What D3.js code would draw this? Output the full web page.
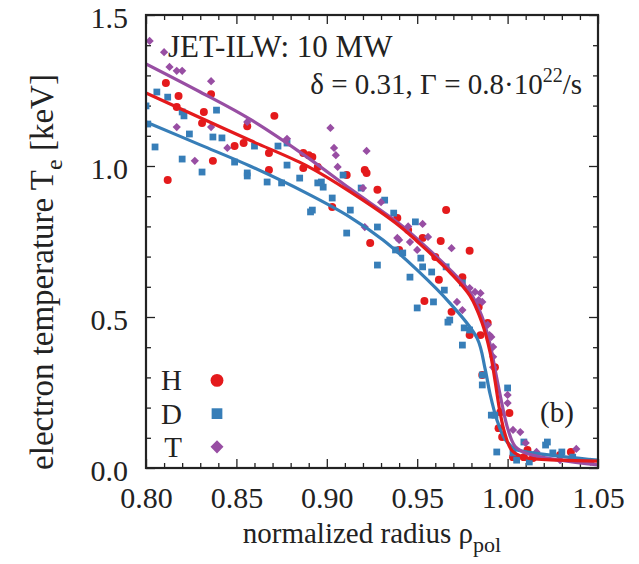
<!DOCTYPE html>
<html>
<head>
<meta charset="utf-8">
<title>JET-ILW Te profile</title>
<script src="https://d3js.org/d3.v7.min.js"></script>
<style>
  body { margin: 0; background: #fff; }
</style>
</head>
<body>
<div id="chart"></div>
<script>
var H_points = [
  [0.811,1.275],[0.818,1.232],[0.836,1.238],[0.817,1.195],[0.832,1.179],[0.831,1.142],
  [0.856,1.132],[0.871,1.166],[0.849,1.066],[0.854,1.076],[0.837,1.017],[0.812,0.954],
  [0.868,1.043],[0.868,0.987],[0.887,1.043],[0.890,1.036],[0.892,1.030],[0.895,0.997],
  [0.887,0.993],[0.911,0.970],[0.921,0.987],[0.922,0.977],[0.928,0.921],[0.903,0.864],
  [0.939,0.828],[0.945,0.788],[0.924,0.745],[0.953,0.762],[0.963,0.752],[0.966,0.854],
  [0.979,0.719],[0.975,0.632],[0.960,0.699],[0.940,0.722],[0.954,0.553],[0.962,0.623],
  [0.969,0.517],[0.984,0.533],[0.989,0.480],[0.985,0.440],[0.979,0.440],[0.993,0.334],
  [0.986,0.308],[0.996,0.185],[1.001,0.182],[0.995,0.132],[0.997,0.103],[1.003,0.036],
  [1.009,0.036],[1.014,0.033],[1.011,0.060],[1.035,0.053],[1.029,0.043],[1.005,0.033]
];
var D_points = [
  [0.800,1.199],[0.801,1.139],[0.806,1.245],[0.812,1.228],[0.820,1.179],[0.821,1.166],
  [0.839,1.185],[0.824,1.106],[0.805,1.063],[0.820,1.023],[0.831,0.980],[0.837,1.096],
  [0.842,1.093],[0.849,1.013],[0.856,0.977],[0.856,0.967],[0.860,1.066],[0.867,0.947],
  [0.873,1.066],[0.878,1.076],[0.878,1.003],[0.875,0.944],[0.885,0.960],[0.892,0.854],
  [0.891,0.848],[0.895,0.944],[0.897,0.947],[0.898,0.930],[0.903,0.894],[0.909,0.970],
  [0.919,0.927],[0.913,0.854],[0.932,0.887],[0.911,0.778],[0.928,0.672],[0.937,0.844],
  [0.928,0.798],[0.949,0.815],[0.938,0.722],[0.942,0.712],[0.952,0.695],[0.966,0.666],
  [0.958,0.649],[0.946,0.632],[0.953,0.666],[0.975,0.613],[0.959,0.550],[0.965,0.589],
  [0.968,0.490],[0.976,0.464],[0.979,0.457],[0.975,0.407],[0.986,0.308],[0.950,0.530],
  [0.967,0.483],[0.986,0.275],[1.000,0.265],[0.991,0.175],[0.993,0.175],[0.994,0.053],
  [1.003,0.050],[1.021,0.076],[1.025,0.050],[1.036,0.036],[1.005,0.026],[1.009,0.086],
  [1.022,0.086],[1.030,0.053],[1.012,0.020]
];
var T_points = [
  [0.802,1.414],[0.810,1.377],[0.813,1.328],[0.817,1.315],[0.820,1.315],[0.836,1.281],
  [0.817,1.129],[0.836,1.129],[0.845,1.060],[0.827,1.017],[0.856,1.146],[0.878,1.090],
  [0.902,1.126],[0.904,1.060],[0.905,1.036],[0.906,0.997],[0.922,1.050],[0.920,0.927],
  [0.930,0.880],[0.921,0.798],[0.939,0.762],[0.940,0.755],[0.946,0.748],[0.945,0.800],
  [0.953,0.808],[0.956,0.765],[0.950,0.722],[0.969,0.728],[0.979,0.596],[0.982,0.583],
  [0.984,0.556],[0.972,0.550],[0.975,0.523],[0.985,0.579],[0.986,0.550],[0.989,0.474],
  [0.990,0.440],[0.991,0.434],[0.992,0.401],[0.992,0.368],[0.992,0.334],[1.000,0.242],
  [1.000,0.215],[1.003,0.126],[1.007,0.119],[1.010,0.083],[1.016,0.053],[1.038,0.063],
  [1.029,0.026],[1.046,0.020]
];

// fitted profiles
var H_fit = [[0.800,1.242],[0.830,1.160],[0.8575,1.085],[0.8885,1.002],[0.9128,0.915],
  [0.9405,0.800],[0.9515,0.742],[0.9681,0.648],[0.9792,0.570],[0.9858,0.482],[0.9903,0.384],
  [0.993,0.291],[0.9958,0.185],[0.9986,0.112],[1.0024,0.058],[1.0096,0.035],[1.029,0.026],[1.05,0.023]];
var D_fit = [[0.800,1.146],[0.830,1.070],[0.8575,1.000],[0.8885,0.911],[0.9128,0.831],
  [0.9311,0.755],[0.9499,0.656],[0.9681,0.546],[0.9831,0.430],[0.9875,0.330],[0.9903,0.245],
  [0.9941,0.159],[0.9986,0.095],[1.0041,0.063],[1.0141,0.050],[1.0329,0.036],[1.05,0.026]];
var T_fit = [[0.800,1.338],[0.830,1.245],[0.8575,1.155],[0.8885,1.032],[0.9128,0.925],
  [0.9405,0.807],[0.9515,0.750],[0.9681,0.657],[0.9792,0.582],[0.9858,0.502],[0.9903,0.410],
  [0.9936,0.310],[0.9969,0.212],[1.0002,0.128],[1.0041,0.072],[1.0107,0.048],[1.029,0.026],[1.05,0.010]];

var xMajor = [0.80, 0.85, 0.90, 0.95, 1.00, 1.05];
var yMajor = [0.0, 0.5, 1.0, 1.5];
var legendNames = ["H", "D", "T"];

var colH = "#e41a1c", colD = "#377eb8", colT = "#984ea3";
var FONT = "Liberation Serif";
var INK = "#222";

var W = 639, Hh = 564;
var margin = {left: 146, top: 15, right: 41, bottom: 96};
var pw = W - margin.left - margin.right, ph = Hh - margin.top - margin.bottom;

var svg = d3.select("#chart").append("svg").attr("width", W).attr("height", Hh);
var g = svg.append("g").attr("transform", "translate(" + margin.left + "," + margin.top + ")");

var x = d3.scaleLinear().domain([0.80, 1.05]).range([0, pw]);
var y = d3.scaleLinear().domain([0, 1.5]).range([ph, 0]);

var xMinor = d3.range(80, 106).filter(function(d){ return d % 5 !== 0; }).map(function(d){ return d/100; });
var yMinor = d3.range(0, 16).filter(function(d){ return d % 5 !== 0; }).map(function(d){ return d/10; });

svg.append("clipPath").attr("id", "clip").append("rect").attr("width", pw).attr("height", ph);

// ticks (inward, mirrored)
function tickAxis(axis, tf) {
  var a = g.append("g").attr("transform", tf).call(axis);
  a.select(".domain").remove();
  a.selectAll("line").attr("stroke", INK).attr("stroke-width", 1.3);
  a.selectAll("text").attr("font-family", FONT).attr("font-size", 30).attr("fill", INK);
  return a;
}
tickAxis(d3.axisBottom(x).tickValues(xMajor).tickSize(-9).tickPadding(19).tickFormat(d3.format(".2f")), "translate(0," + ph + ")");
tickAxis(d3.axisBottom(x).tickValues(xMinor).tickSize(-5).tickFormat(""), "translate(0," + ph + ")");
tickAxis(d3.axisTop(x).tickValues(xMajor).tickSize(-9).tickFormat(""), "translate(0,0)");
tickAxis(d3.axisTop(x).tickValues(xMinor).tickSize(-5).tickFormat(""), "translate(0,0)");
var yAx = tickAxis(d3.axisLeft(y).tickValues(yMajor).tickSize(-9).tickPadding(18).tickFormat(d3.format(".1f")), "translate(0,0)");
yAx.selectAll("text").attr("dy", "0.4em");
tickAxis(d3.axisLeft(y).tickValues(yMinor).tickSize(-5).tickFormat(""), "translate(0,0)");
tickAxis(d3.axisRight(y).tickValues(yMajor).tickSize(-9).tickFormat(""), "translate(" + pw + ",0)");
tickAxis(d3.axisRight(y).tickValues(yMinor).tickSize(-5).tickFormat(""), "translate(" + pw + ",0)");

// data
var plot = g.append("g").attr("clip-path", "url(#clip)");

function drawPoints(data, shape, size, color, rot) {
  plot.append("g").selectAll("path").data(data).enter().append("path")
    .attr("d", d3.symbol().type(shape).size(size))
    .attr("transform", function(d){ return "translate(" + x(d[0]) + "," + y(d[1]) + ")" + (rot ? " rotate(45)" : ""); })
    .attr("fill", color);
}
drawPoints(H_points, d3.symbolCircle, 50, colH);
drawPoints(D_points, d3.symbolSquare, 46, colD);
drawPoints(T_points, d3.symbolSquare, 34, colT, true);

var line = d3.line().x(function(d){ return x(d[0]); }).y(function(d){ return y(d[1]); })
  .curve(d3.curveCatmullRom.alpha(0.5));
[[D_fit, colD], [T_fit, colT], [H_fit, colH]].forEach(function(s) {
  plot.append("path").datum(s[0]).attr("d", line)
    .attr("fill", "none").attr("stroke", s[1]).attr("stroke-width", 3.2);
});

// frame
g.append("rect").attr("width", pw).attr("height", ph)
  .attr("fill", "none").attr("stroke", INK).attr("stroke-width", 2.2);

// labels
function txt(xp, yp, size, anchor) {
  return svg.append("text").attr("x", xp).attr("y", yp).attr("font-size", size)
    .attr("font-family", FONT).attr("fill", INK).attr("text-anchor", anchor || "start");
}
var xl = txt(margin.left + pw/2, 543, 29, "middle");
xl.append("tspan").text("normalized radius \u03c1");
xl.append("tspan").attr("font-size", 22).attr("dy", 9).text("pol");

var yl = svg.append("text").attr("transform", "translate(53,272) rotate(-90)")
  .attr("text-anchor", "middle").attr("font-size", 33).attr("font-family", FONT).attr("fill", INK);
yl.append("tspan").text("electron temperature T");
yl.append("tspan").attr("font-size", 24).attr("dy", 9).text("e");
yl.append("tspan").attr("dy", -9).text(" [keV]");

txt(168, 57, 31).text("JET-ILW: 10 MW");
var ann = txt(582, 94, 29, "end");
ann.append("tspan").text("\u03b4 = 0.31, \u0393 = 0.8\u00b710");
ann.append("tspan").attr("font-size", 20).attr("dy", -12).text("22");
ann.append("tspan").attr("dy", 12).text("/s");

txt(557, 422, 29, "middle").text("(b)");

// legend
var legY = [0.29, 0.18, 0.07];
var legShapes = [[d3.symbolCircle, 130, colH, false], [d3.symbolSquare, 115, colD, false], [d3.symbolSquare, 85, colT, true]];
legendNames.forEach(function(n, i) {
  var cy = y(legY[i]) + margin.top;
  txt(182, cy + 10, 29, "end").text(n);
  svg.append("path").attr("d", d3.symbol().type(legShapes[i][0]).size(legShapes[i][1]))
    .attr("transform", "translate(217," + cy + ")" + (legShapes[i][3] ? " rotate(45)" : ""))
    .attr("fill", legShapes[i][2]);
});
</script>
</body>
</html>
